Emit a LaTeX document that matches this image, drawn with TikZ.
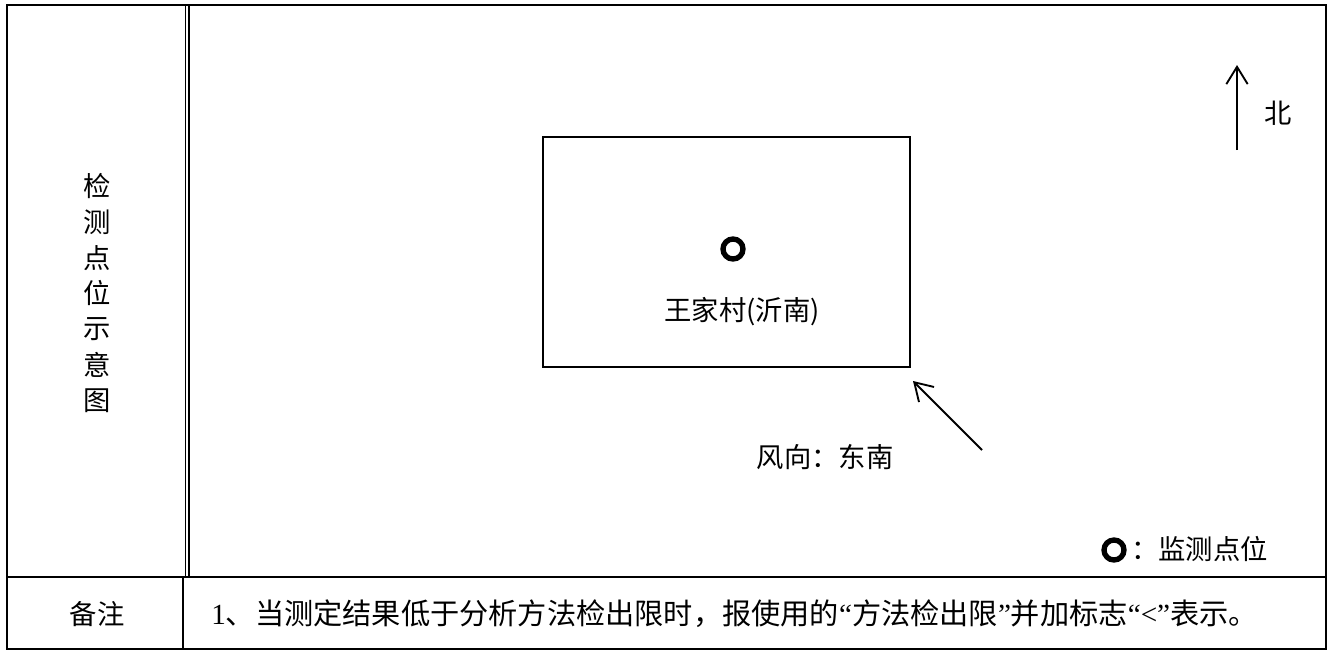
\documentclass[tikz,border=0pt]{standalone}
\usepackage{fontspec}
\setmainfont{Liberation Serif}
\newfontfamily\cjk{Noto Sans CJK SC}
\usetikzlibrary{arrows.meta}

\begin{document}
\begin{tikzpicture}[x=0.75pt, y=-0.75pt,
    frame/.style={line width=1.4pt},
    lbl/.style={font=\cjk\fontsize{20.5}{24}\selectfont, inner sep=0pt},
    spot/.style={circle, draw, line width=4pt, minimum size=15pt, inner sep=0pt},
    pointer/.style={line width=1.4pt, -{Straight Barb[length=13pt, width=16pt]}}]
    \useasboundingbox (0,0) rectangle (1334,651);

    % Table
    \draw[frame] (7,5) rectangle (1326,649);
    \draw[frame] (7,577) -- (1326,577);
    \draw[frame] (185.5,5) -- (185.5,577);
    \draw[frame] (189,5) -- (189,577);
    \draw[frame] (183,577) -- (183,649);

    % Left column
    \foreach \ch [count=\i from 0] in {检,测,点,位,示,意,图}
        \node[lbl] (side\i) at (97,186+35.8*\i) {\ch};
    \node[lbl] (remark) at (97,614) {备注};

    % Village
    \draw[frame] (543,137) rectangle (910,367);
    \node[spot] (site) at (733,249) {};
    \node[lbl] (village) at (742,312) {王家村(沂南)};

    % North
    \coordinate (nbase) at (1237,150);
    \coordinate (ntip) at (1237,65);
    \draw[pointer] (nbase) -- (ntip);
    \node[lbl] (north) at (1278,113) {北};

    % Wind
    \coordinate (wbase) at (982,450);
    \coordinate (wtip) at (913,381);
    \draw[pointer] (wbase) -- (wtip);
    \node[lbl] (wind) at (825,457) {风向：东南};

    % Legend
    \node[spot] (key) at (1114,550) {};
    \node[lbl, anchor=east] (keytext) at (1268,549) {：监测点位};

    % Note
    \node[lbl, font=\cjk\fontsize{21.9}{24}\selectfont, anchor=west] (note) at (211,614)
        {{\rmfamily 1}、当测定结果低于分析方法检出限时，报使用的{\rmfamily “}方法检出限{\rmfamily ”}并加标志{\rmfamily “<”}表示。};
\end{tikzpicture}
\end{document}
